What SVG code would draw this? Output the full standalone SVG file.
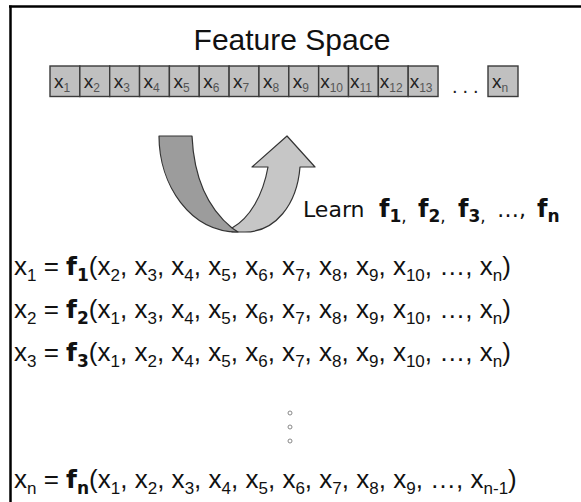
<svg xmlns="http://www.w3.org/2000/svg" width="581" height="502" viewBox="0 0 581 502">
  <style>
    .frame { stroke: #000; stroke-width: 2.5; fill: none; }
    .cell rect { fill: #c0c0c0; stroke: #3a3a3a; stroke-width: 1.4; }
    .cell text { font-family: "Liberation Sans", Arial, sans-serif; font-size: 19px; fill: #222; }
    .cell .cs { font-size: 12px; fill: #555; }
    .title { font-family: "Liberation Sans", Arial, sans-serif; font-size: 30px; fill: #111; }
    .eq { font-family: "Liberation Sans", Arial, sans-serif; font-size: 26px; fill: #111; }
    .sb { font-size: 17px; }
    .fb { font-family: "DejaVu Sans", Verdana, sans-serif; font-weight: bold; font-size: 25px; }
    .fbs { font-family: "DejaVu Sans", Verdana, sans-serif; font-weight: bold; font-size: 17px; }
    .learn { font-family: "DejaVu Sans", Verdana, sans-serif; font-size: 22px; fill: #111; }
    .learn .lb { font-weight: bold; font-size: 24px; }
    .learn .ls { font-weight: bold; font-size: 17px; }
    .learn .lc { font-size: 17px; }
    .band { stroke: #333; stroke-width: 1.2; stroke-linejoin: round; }
    .vdot { fill: #fff; stroke: #888; stroke-width: 1; }
  </style>

  <!-- frame: top and left rules -->
  <g id="frame">
    <line class="frame" x1="9" y1="6.5" x2="581" y2="6.5"/>
    <line class="frame" x1="10.5" y1="5.5" x2="10.5" y2="502"/>
  </g>

  <text id="title" class="title" x="292" y="50" text-anchor="middle">Feature Space</text>

  <!-- feature vector cells -->
  <g id="features" class="cell">
    <g id="cell-x1"><rect x="50" y="66" width="29.85" height="30.5"/><text x="54" y="88">x<tspan class="cs" dy="4">1</tspan></text></g>
    <g id="cell-x2"><rect x="79.85" y="66" width="29.85" height="30.5"/><text x="83.85" y="88">x<tspan class="cs" dy="4">2</tspan></text></g>
    <g id="cell-x3"><rect x="109.7" y="66" width="29.85" height="30.5"/><text x="113.7" y="88">x<tspan class="cs" dy="4">3</tspan></text></g>
    <g id="cell-x4"><rect x="139.55" y="66" width="29.85" height="30.5"/><text x="143.55" y="88">x<tspan class="cs" dy="4">4</tspan></text></g>
    <g id="cell-x5"><rect x="169.4" y="66" width="29.85" height="30.5"/><text x="173.4" y="88">x<tspan class="cs" dy="4">5</tspan></text></g>
    <g id="cell-x6"><rect x="199.25" y="66" width="29.85" height="30.5"/><text x="203.25" y="88">x<tspan class="cs" dy="4">6</tspan></text></g>
    <g id="cell-x7"><rect x="229.1" y="66" width="29.85" height="30.5"/><text x="233.1" y="88">x<tspan class="cs" dy="4">7</tspan></text></g>
    <g id="cell-x8"><rect x="258.95" y="66" width="29.85" height="30.5"/><text x="262.95" y="88">x<tspan class="cs" dy="4">8</tspan></text></g>
    <g id="cell-x9"><rect x="288.8" y="66" width="29.85" height="30.5"/><text x="292.8" y="88">x<tspan class="cs" dy="4">9</tspan></text></g>
    <g id="cell-x10"><rect x="318.65" y="66" width="29.85" height="30.5"/><text x="320.15" y="88">x<tspan class="cs" dy="4">10</tspan></text></g>
    <g id="cell-x11"><rect x="348.5" y="66" width="29.85" height="30.5"/><text x="350" y="88">x<tspan class="cs" dy="4">11</tspan></text></g>
    <g id="cell-x12"><rect x="378.35" y="66" width="29.85" height="30.5"/><text x="379.85" y="88">x<tspan class="cs" dy="4">12</tspan></text></g>
    <g id="cell-x13"><rect x="408.2" y="66" width="29.85" height="30.5"/><text x="409.7" y="88">x<tspan class="cs" dy="4">13</tspan></text></g>
    <text x="452" y="93" style="font-size:20px;letter-spacing:5px;fill:#222">...</text>
    <g id="cell-xn"><rect x="488" y="66" width="30" height="30.5"/><text x="492" y="88">x<tspan class="cs" dy="4">n</tspan></text></g>
  </g>

  <!-- U-turn arrow -->
  <g id="learn-arrow">
    <path class="band" fill="#c6c6c6" d="M232,228 C250,218 263,195 268,167 L252,167 L287,136 L315,167 L300,167 C297,205 275,232 245,232 L232,232 Z"/>
    <path class="band" fill="#9c9c9c" d="M159,136 L192,136 C194,180 210,210 232,228 L238,232 C190,232 159,185 159,136 Z"/>
  </g>

  <text id="learn-label" class="learn" x="303" y="217">Learn<tspan class="lb" x="379">f</tspan><tspan class="ls" dy="5">1</tspan><tspan class="lc">,</tspan><tspan class="lb" x="418" dy="-5">f</tspan><tspan class="ls" dy="5">2</tspan><tspan class="lc">,</tspan><tspan class="lb" x="458" dy="-5">f</tspan><tspan class="ls" dy="5">3</tspan><tspan class="lc">,</tspan><tspan x="497" dy="-5">…,</tspan><tspan class="lb" x="537">f</tspan><tspan class="ls" dy="5">n</tspan></text>

  <!-- learned functions -->
  <g id="equations" class="eq">
    <text id="eq-1" x="14" y="275">x<tspan class="sb" dy="6">1</tspan><tspan dy="-6"> = </tspan><tspan class="fb">f</tspan><tspan class="fbs" dy="6">1</tspan><tspan dy="-6">(x</tspan><tspan class="sb" dy="6">2</tspan><tspan dy="-6">, x</tspan><tspan class="sb" dy="6">3</tspan><tspan dy="-6">, x</tspan><tspan class="sb" dy="6">4</tspan><tspan dy="-6">, x</tspan><tspan class="sb" dy="6">5</tspan><tspan dy="-6">, x</tspan><tspan class="sb" dy="6">6</tspan><tspan dy="-6">, x</tspan><tspan class="sb" dy="6">7</tspan><tspan dy="-6">, x</tspan><tspan class="sb" dy="6">8</tspan><tspan dy="-6">, x</tspan><tspan class="sb" dy="6">9</tspan><tspan dy="-6">, x</tspan><tspan class="sb" dy="6">10</tspan><tspan dy="-6">, …, x</tspan><tspan class="sb" dy="6">n</tspan><tspan dy="-6">)</tspan></text>
    <text id="eq-2" x="14" y="318">x<tspan class="sb" dy="6">2</tspan><tspan dy="-6"> = </tspan><tspan class="fb">f</tspan><tspan class="fbs" dy="6">2</tspan><tspan dy="-6">(x</tspan><tspan class="sb" dy="6">1</tspan><tspan dy="-6">, x</tspan><tspan class="sb" dy="6">3</tspan><tspan dy="-6">, x</tspan><tspan class="sb" dy="6">4</tspan><tspan dy="-6">, x</tspan><tspan class="sb" dy="6">5</tspan><tspan dy="-6">, x</tspan><tspan class="sb" dy="6">6</tspan><tspan dy="-6">, x</tspan><tspan class="sb" dy="6">7</tspan><tspan dy="-6">, x</tspan><tspan class="sb" dy="6">8</tspan><tspan dy="-6">, x</tspan><tspan class="sb" dy="6">9</tspan><tspan dy="-6">, x</tspan><tspan class="sb" dy="6">10</tspan><tspan dy="-6">, …, x</tspan><tspan class="sb" dy="6">n</tspan><tspan dy="-6">)</tspan></text>
    <text id="eq-3" x="14" y="361">x<tspan class="sb" dy="6">3</tspan><tspan dy="-6"> = </tspan><tspan class="fb">f</tspan><tspan class="fbs" dy="6">3</tspan><tspan dy="-6">(x</tspan><tspan class="sb" dy="6">1</tspan><tspan dy="-6">, x</tspan><tspan class="sb" dy="6">2</tspan><tspan dy="-6">, x</tspan><tspan class="sb" dy="6">4</tspan><tspan dy="-6">, x</tspan><tspan class="sb" dy="6">5</tspan><tspan dy="-6">, x</tspan><tspan class="sb" dy="6">6</tspan><tspan dy="-6">, x</tspan><tspan class="sb" dy="6">7</tspan><tspan dy="-6">, x</tspan><tspan class="sb" dy="6">8</tspan><tspan dy="-6">, x</tspan><tspan class="sb" dy="6">9</tspan><tspan dy="-6">, x</tspan><tspan class="sb" dy="6">10</tspan><tspan dy="-6">, …, x</tspan><tspan class="sb" dy="6">n</tspan><tspan dy="-6">)</tspan></text>
    <text id="eq-n" x="14" y="488">x<tspan class="sb" dy="6">n</tspan><tspan dy="-6"> = </tspan><tspan class="fb">f</tspan><tspan class="fbs" dy="6">n</tspan><tspan dy="-6">(x</tspan><tspan class="sb" dy="6">1</tspan><tspan dy="-6">, x</tspan><tspan class="sb" dy="6">2</tspan><tspan dy="-6">, x</tspan><tspan class="sb" dy="6">3</tspan><tspan dy="-6">, x</tspan><tspan class="sb" dy="6">4</tspan><tspan dy="-6">, x</tspan><tspan class="sb" dy="6">5</tspan><tspan dy="-6">, x</tspan><tspan class="sb" dy="6">6</tspan><tspan dy="-6">, x</tspan><tspan class="sb" dy="6">7</tspan><tspan dy="-6">, x</tspan><tspan class="sb" dy="6">8</tspan><tspan dy="-6">, x</tspan><tspan class="sb" dy="6">9</tspan><tspan dy="-6">, …, x</tspan><tspan class="sb" dy="6">n-1</tspan><tspan dy="-6">)</tspan></text>
  </g>

  <!-- vertical ellipsis -->
  <g id="vdots">
    <circle class="vdot" cx="290" cy="413" r="2"/>
    <circle class="vdot" cx="290" cy="427" r="2"/>
    <circle class="vdot" cx="290" cy="441" r="2"/>
  </g>
</svg>
